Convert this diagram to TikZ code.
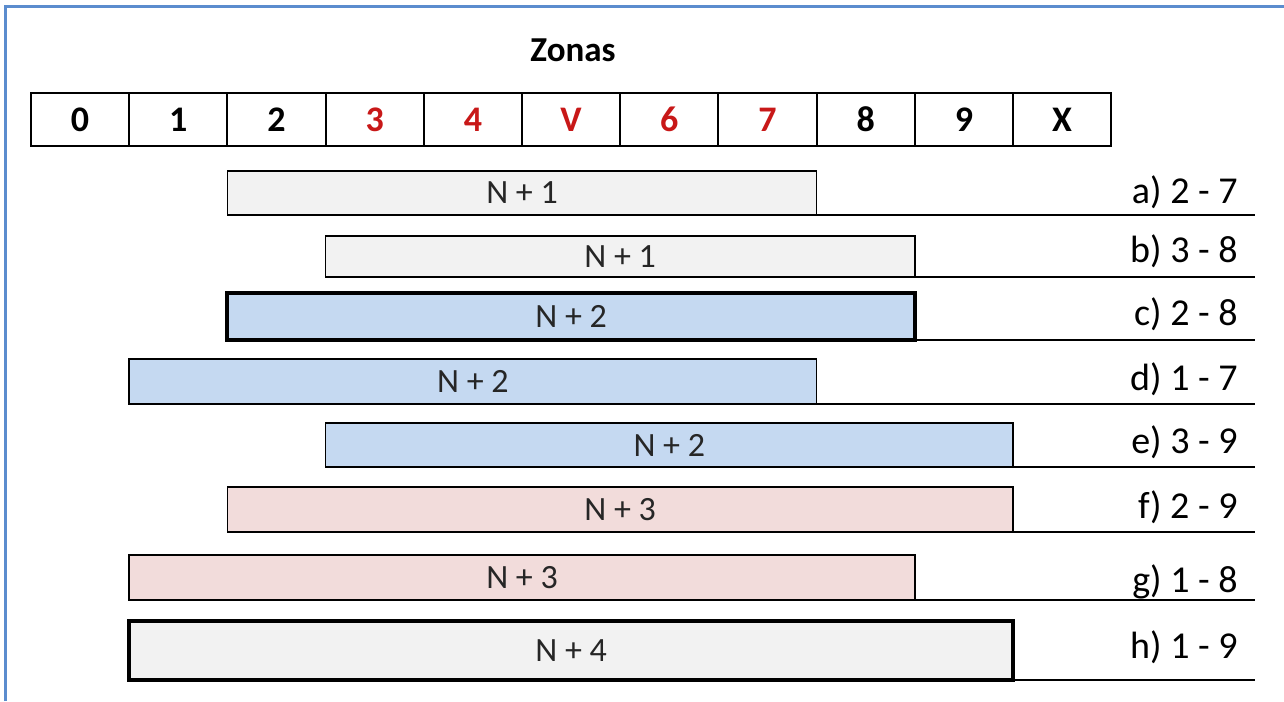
\documentclass[tikz,border=0pt]{standalone}
\usepackage{fontspec}
\setmainfont{Carlito}
\usepackage{tikz}
\usetikzlibrary{positioning}
\definecolor{frameblue}{RGB}{91,140,206}
\definecolor{zonered}{RGB}{200,24,24}
\colorlet{fillN}{gray!10}
\definecolor{fillBlue}{RGB}{197,217,241}
\definecolor{fillPink}{RGB}{242,220,219}

\begin{document}
\begin{tikzpicture}[x=0.5pt, y=-0.5pt,
    zone/.style={draw, line width=1pt, inner sep=0pt, outer sep=0pt,
      minimum width=49.1pt, minimum height=26.5pt,
      font=\fontsize{18}{21}\selectfont\bfseries},
    bar/.style={draw, line width=0.75pt, inner sep=0pt, outer sep=0pt,
      font=\fontsize{17}{20}\selectfont, text=black!85},
    boldbar/.style={bar, line width=2pt},
    rule/.style={line width=0.75pt},
    tag/.style={anchor=base east, inner sep=0pt, font=\fontsize{19}{22}\selectfont}]
      \useasboundingbox (0,0) rectangle (1284,701);

      % Frame (only left and top edges visible)
      \draw[frameblue, line width=1.5pt] (5,701) -- (5,7) -- (1284,7);

      % Title
      \node[font=\fontsize{17.5}{20}\selectfont\bfseries] (title) at (573,50) {Zonas};

      % Zone cells, 0 ... X
      \foreach \z [count=\i from 0] in {0,1,2,3,4,V,6,7,8,9,X} {
        \ifnum\i>2 \ifnum\i<8 \def\zc{zonered}\else\def\zc{black}\fi\else\def\zc{black}\fi
        \node[zone, text=\zc] (z\i) at ({31+98.2*(\i+0.5)},119.5) {\z};
      }

      % Bars: row / from zone / to zone / top / bottom / fill / style / N+ / label base
      \foreach \r/\f/\t/\top/\bot/\fc/\st/\n/\lb in {
          a/2/7/171/215/fillN/bar/1/203,
          b/3/8/236/277/fillN/bar/1/262,
          c/2/8/293/340/fillBlue/boldbar/2/325,
          d/1/7/359/404/fillBlue/bar/2/390,
          e/3/9/423/467/fillBlue/bar/2/453,
          f/2/9/487/532/fillPink/bar/3/518,
          g/1/8/555/600/fillPink/bar/3/592,
          h/1/9/621/680/fillN/boldbar/4/658} {
        \pgfmathsetmacro{\bw}{(\t-\f+1)*49.1}
        \pgfmathsetmacro{\bh}{(\bot-\top)/2}
        \node[\st, fill=\fc, minimum width=\bw pt, minimum height=\bh pt]
          (bar\r) at ({31+98.2*(\f+\t+1)/2},{(\top+\bot)/2}) {N + \n};
        \coordinate (end\r) at (1255,\bot);
        \draw[rule] (bar\r.south east) -- (end\r);
        \node[tag] (lab\r) at (1238,\lb) {\r) \f\ - \t};
      }
\end{tikzpicture}
\end{document}
